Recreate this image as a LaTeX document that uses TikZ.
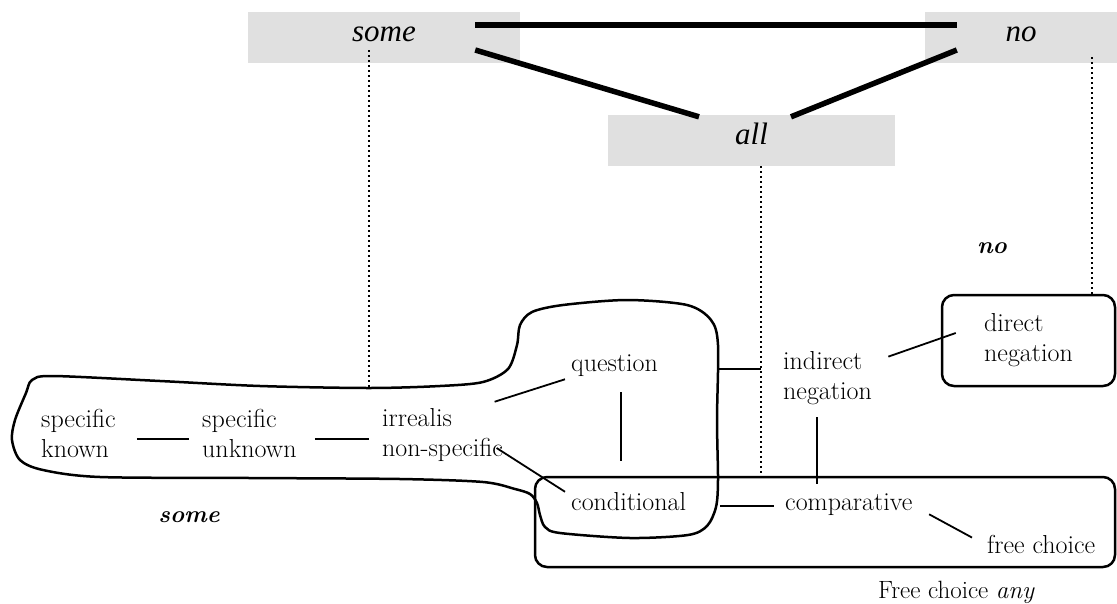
\documentclass[tikz,border=0pt]{standalone}
\usepackage{fontspec}
\newfontfamily\timesfont{Liberation Serif}
\usetikzlibrary{positioning}
\definecolor{quantgray}{RGB}{224,224,224}

\begin{document}
\begin{tikzpicture}[x=1pt, y=-1pt,
    quantbox/.style={fill=quantgray, inner sep=0pt, text height=10pt, text depth=3pt, font=\timesfont\fontsize{31}{36}\selectfont\itshape},
    usage/.style={inner sep=0pt, align=left, font=\fontsize{26}{30}\selectfont},
    regionlbl/.style={inner sep=0pt, font=\fontsize{24}{28}\selectfont\bfseries\itshape},
    regionbox/.style={draw, line width=2.5pt, rounded corners=12pt, inner sep=0pt},
    link/.style={line width=1.8pt},
    mapline/.style={line width=5.5pt},
    drop/.style={line width=2pt, dash pattern=on 2pt off 3pt},
    region/.style={line width=2.5pt}
  ]
  \useasboundingbox (0,0) rectangle (1117,603);

  % the three quantifiers
  \node[quantbox, minimum width=272pt, minimum height=51pt] (some) at (384,37.5) {some};
  \node[quantbox, minimum width=192pt, minimum height=51pt] (no) at (1021,37.5) {no};
  \node[quantbox, minimum width=287pt, minimum height=51pt] (all) at (751.5,140.5) {all};

  \draw[mapline] ([shift={(-45,-12.5)}]some.east) -- ([shift={(32,-12.5)}]no.west);
  \draw[mapline] ([shift={(-45,12.5)}]some.east) -- ([shift={(-52.5,2)}]all.north);
  \draw[mapline] ([shift={(32,12.5)}]no.west) -- ([shift={(39.5,2)}]all.north);

  % functions
  \node[usage, anchor=west] (known) at (41,433) {specific\\known};
  \node[usage, anchor=west] (unknown) at (202,433) {specific\\unknown};
  \node[usage, anchor=west] (irrealis) at (382,435.5) {irrealis\\non-specific};
  \node[usage, anchor=base west] (question) at (571,371) {question};
  \node[usage, anchor=base west] (conditional) at (571,510) {conditional};
  \node[usage, anchor=base west] (comparative) at (785,510) {comparative};
  \node[usage, anchor=west] (indirect) at (783,378.5) {indirect\\negation};
  \node[usage, regionbox, minimum width=173pt, minimum height=91pt] (direct) at (1028.5,340.5) {direct\\negation};
  \node[usage, anchor=base west] (freechoice) at (987,553) {free choice};
  \node[regionbox, minimum width=580pt, minimum height=90pt] (fcregion) at (825,522) {};

  \node[regionlbl, anchor=base] (somelbl) at (189,522) {some};
  \node[regionlbl, anchor=base] (nolbl) at (992,253) {no};
  \node[usage, anchor=base west, font=\fontsize{25}{30}\selectfont] (fcany) at (878,598) {Free choice \textit{any}};

  % region covered by some
  \draw[region] plot[smooth cycle, tension=0.5] coordinates {
    (53,376) (160,381) (260,386) (369,388) (440,386) (483,382) (508,369)
    (517,345) (520,325) (532,312) (563,305) (627,300) (687,305) (711,320)
    (718,345) (717,420) (718,480) (716,507) (707,526) (688,535) (630,538)
    (560,533) (545,527) (540,515) (537,503) (530,494) (515,489) (483,482)
    (400,479) (250,478) (100,477) (43,470) (20,460) (12,440) (15,420)
    (26,393) (32,380)};
  \coordinate (kgrp) at (369,388);
  \coordinate (qgrp) at (717,369);

  \draw[drop] ([shift={(-15,12.5)}]some.center) -- (kgrp);
  \coordinate (alldrop) at ([xshift=9.5]all.south);
  \draw[drop] (alldrop) -- (alldrop |- fcregion.north);
  \draw[link] (qgrp) -- (qgrp -| alldrop);
  \draw[drop] ([shift={(71,19.5)}]no.center) -- ([xshift=63.5]direct.north);

  \draw[link, shorten <=21pt, shorten >=13pt] ([yshift=-6]known.east) -- ([yshift=-6]unknown.west);
  \draw[link, shorten <=18pt, shorten >=13pt] ([yshift=-6]unknown.east) -- ([yshift=-3.5]irrealis.west);
  \draw[link] ([shift={(-8.6,-7)}]irrealis.north east) -- ([shift={(-6,3)}]question.south west);
  \draw[link] ([shift={(-6.6,12.5)}]irrealis.east) -- ([xshift=-6]conditional.north west);
  \path ([shift={(6.6,16)}]question.south) coordinate (qtop)
        ([shift={(-8.9,-31)}]conditional.north) coordinate (cbot);
  \draw[link] (qtop) -- (qtop |- cbot);
  \draw[link, shorten <=34pt, shorten >=11pt] ([yshift=4]conditional.base east) -- ([yshift=4]comparative.base west);
  \path ([shift={(-10.4,12)}]indirect.south) coordinate (itop)
        ([yshift=9]comparative.north) coordinate (cmtop);
  \draw[link] (itop) -- (itop |- cmtop);
  \draw[link] ([shift={(16.6,-1)}]comparative.south east) -- ([shift={(-15,3)}]freechoice.north west);
  \draw[link] ([shift={(16.3,5)}]indirect.north east) -- ([shift={(15,-7.5)}]direct.west);
\end{tikzpicture}
\end{document}
